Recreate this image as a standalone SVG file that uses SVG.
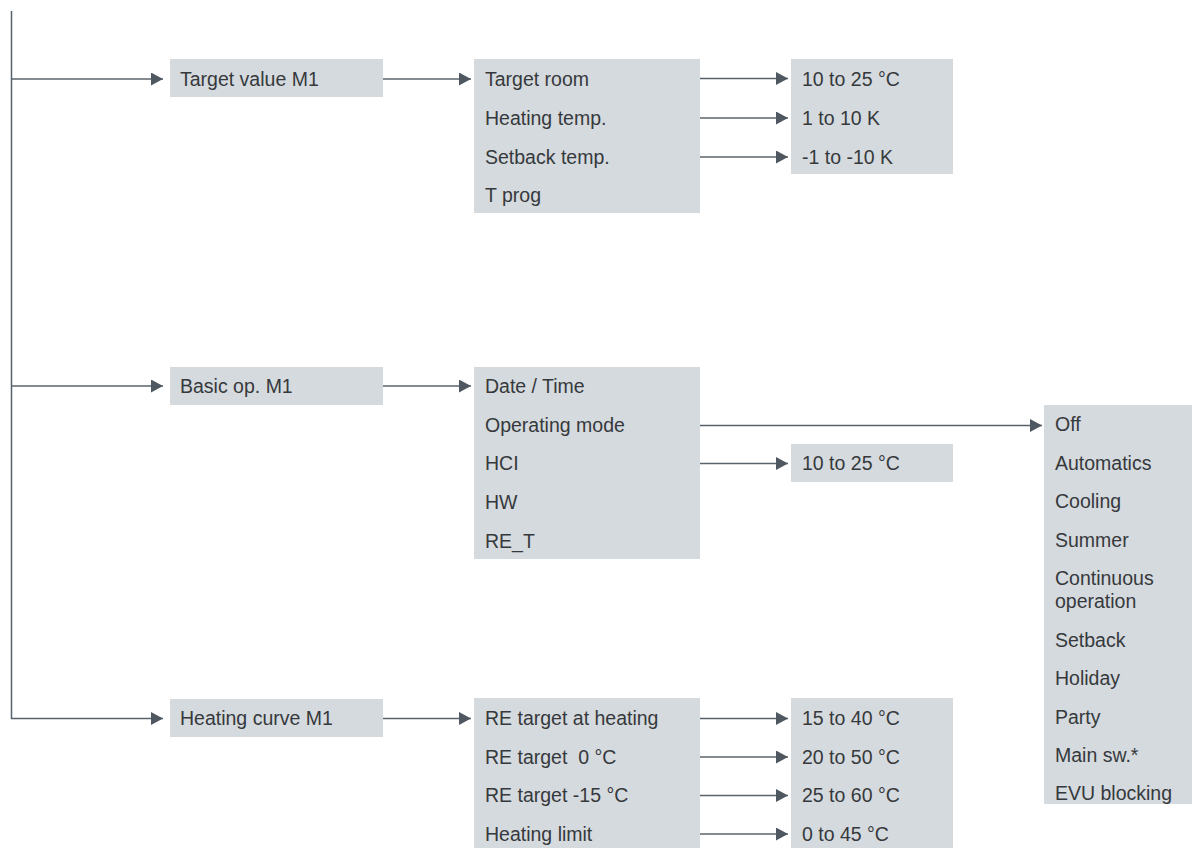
<svg xmlns="http://www.w3.org/2000/svg" width="1192" height="848" viewBox="0 0 1192 848">
<style>
.box{fill:#d5dade}
.t{font-family:"Liberation Sans",Arial,sans-serif;font-size:19.5px;fill:#36393c}
.ln{stroke:#5a636b;stroke-width:1.5;fill:none}
</style>
<defs>
<marker id="ah" markerUnits="userSpaceOnUse" markerWidth="12" markerHeight="13" refX="12" refY="6.5" orient="auto" viewBox="0 0 12 13">
<path d="M0,0 L12,6.5 L0,13 Z" fill="#4f5860"/>
</marker>
</defs>
<rect width="1192" height="848" fill="#ffffff"/>
<g id="connectors">
<path class="ln" d="M11.5,11 V718.5 H163" marker-end="url(#ah)"/>
<path class="ln" d="M11.5,79 H163" marker-end="url(#ah)"/>
<path class="ln" d="M11.5,386 H163" marker-end="url(#ah)"/>
<path class="ln" d="M383,79 H471" marker-end="url(#ah)"/>
<path class="ln" d="M383,386 H471" marker-end="url(#ah)"/>
<path class="ln" d="M383,718.5 H471" marker-end="url(#ah)"/>
<path class="ln" d="M700,78.5 H788" marker-end="url(#ah)"/>
<path class="ln" d="M700,118 H788" marker-end="url(#ah)"/>
<path class="ln" d="M700,157 H788" marker-end="url(#ah)"/>
<path class="ln" d="M700,425.5 H1042" marker-end="url(#ah)"/>
<path class="ln" d="M700,463.5 H788" marker-end="url(#ah)"/>
<path class="ln" d="M700,718.5 H788" marker-end="url(#ah)"/>
<path class="ln" d="M700,757 H788" marker-end="url(#ah)"/>
<path class="ln" d="M700,795.5 H788" marker-end="url(#ah)"/>
<path class="ln" d="M700,834 H788" marker-end="url(#ah)"/>
</g>
<g id="target-value">
<rect class="box" x="170" y="59" width="213" height="38"/>
<text class="t" x="180" y="85.5">Target value M1</text>
</g>
<g id="target-value-items">
<rect class="box" x="474" y="59" width="226" height="154"/>
<text class="t" x="485" y="85.5">Target room</text>
<text class="t" x="485" y="124.5">Heating temp.</text>
<text class="t" x="485" y="163.5">Setback temp.</text>
<text class="t" x="485" y="202">T prog</text>
</g>
<g id="target-value-ranges">
<rect class="box" x="791" y="59" width="162" height="115"/>
<text class="t" x="802" y="85.5">10 to 25 °C</text>
<text class="t" x="802" y="124.5">1 to 10 K</text>
<text class="t" x="802" y="163.5">-1 to -10 K</text>
</g>
<g id="basic-op">
<rect class="box" x="170" y="367" width="213" height="38"/>
<text class="t" x="180" y="392.5">Basic op. M1</text>
</g>
<g id="basic-op-items">
<rect class="box" x="474" y="367" width="226" height="192"/>
<text class="t" x="485" y="392.5">Date / Time</text>
<text class="t" x="485" y="431.5">Operating mode</text>
<text class="t" x="485" y="470">HCI</text>
<text class="t" x="485" y="509">HW</text>
<text class="t" x="485" y="548">RE_T</text>
</g>
<g id="hci-range">
<rect class="box" x="791" y="444" width="162" height="38"/>
<text class="t" x="802" y="470">10 to 25 °C</text>
</g>
<g id="operating-modes">
<rect class="box" x="1044" y="405" width="148" height="399"/>
<text class="t" x="1055" y="431">Off</text>
<text class="t" x="1055" y="469.5">Automatics</text>
<text class="t" x="1055" y="508">Cooling</text>
<text class="t" x="1055" y="546.5">Summer</text>
<text class="t" x="1055" y="585">Continuous</text>
<text class="t" x="1055" y="608">operation</text>
<text class="t" x="1055" y="646.5">Setback</text>
<text class="t" x="1055" y="685">Holiday</text>
<text class="t" x="1055" y="723.5">Party</text>
<text class="t" x="1055" y="762">Main sw.*</text>
<text class="t" x="1055" y="799.5">EVU blocking</text>
</g>
<g id="heating-curve">
<rect class="box" x="170" y="699" width="213" height="38"/>
<text class="t" x="180" y="725">Heating curve M1</text>
</g>
<g id="heating-curve-items">
<rect class="box" x="474" y="698" width="226" height="150"/>
<text class="t" x="485" y="725">RE target at heating</text>
<text class="t" x="485" y="763.5" xml:space="preserve">RE target  0 °C</text>
<text class="t" x="485" y="802">RE target -15 °C</text>
<text class="t" x="485" y="840.5">Heating limit</text>
</g>
<g id="heating-curve-ranges">
<rect class="box" x="791" y="698" width="162" height="150"/>
<text class="t" x="802" y="725">15 to 40 °C</text>
<text class="t" x="802" y="763.5">20 to 50 °C</text>
<text class="t" x="802" y="802">25 to 60 °C</text>
<text class="t" x="802" y="840.5">0 to 45 °C</text>
</g>
</svg>
